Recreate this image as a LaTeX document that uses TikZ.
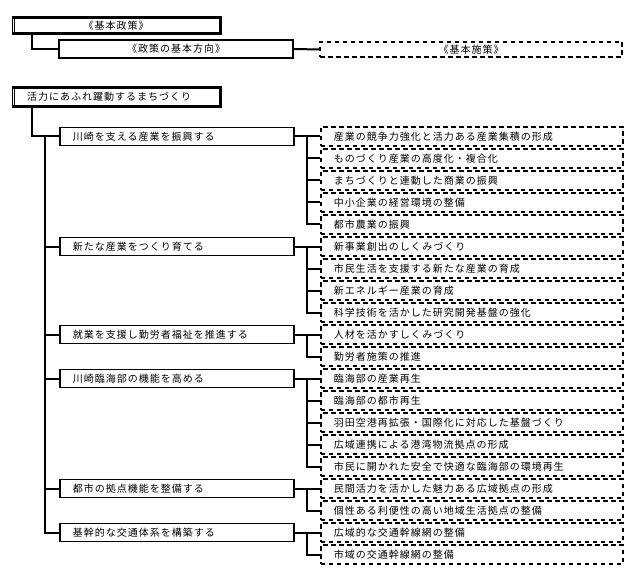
\documentclass[tikz,border=0pt]{standalone}
\usepackage{fontspec}
\setmainfont{Noto Sans CJK JP}[LetterSpace=10]
\begin{document}
\begin{tikzpicture}[x=1pt,y=-1pt,
    every node/.style={font=\fontsize{10}{12}\selectfont, inner sep=0pt},
    headbox/.style={minimum width=208pt},
    policy/.style={draw, line width=1.8pt, anchor=west, minimum height=18pt, text width=208pt, inner xsep=13pt, align=left},
    measure/.style={draw, line width=1.8pt, dash pattern=on 4.5pt off 3.5pt, anchor=west, minimum height=19pt, text width=276pt, inner xsep=13pt, align=left},
    link/.style={line width=2pt},
    frame/.style={line width=2.8pt}]
    \useasboundingbox (0,0) rectangle (639,585);
    % headings
    \node[headbox, minimum height=15pt] (h1) at (116,25.5) {《基本政策》};
    \node[draw, line width=1.8pt, minimum width=234pt, minimum height=18pt] (h2) at (176,49) {《政策の基本方向》};
    \node[draw, line width=1.2pt, dash pattern=on 4.5pt off 3.5pt, minimum width=302pt, minimum height=15pt] (h4) at (471,49.5) {《基本施策》};
    \node[headbox, anchor=west, minimum height=18pt, text width=178pt, inner xsep=15pt, align=left] (h3) at (12,97) {活力にあふれ躍動するまちづくり};
    \draw[frame] (h1.south west) -- (h1.south east) -- (h1.north east) -- (h1.north west);
    \draw[thin] (h1.north west) -- (h1.south west);
    \draw[thin] ([xshift=2pt]h1.north west) -- ([xshift=2pt]h1.south west);
    \draw[frame] (h3.south west) -- (h3.south east) -- (h3.north east) -- (h3.north west);
    \draw[thin] (h3.north west) -- (h3.south west);
    \draw[thin] ([xshift=2pt]h3.north west) -- ([xshift=2pt]h3.south west);
    % policies
    \node[policy] (p1) at (59,136.5) {川崎を支える産業を振興する};
    \node[policy] (p2) at (59,246.5) {新たな産業をつくり育てる};
    \node[policy] (p3) at (59,334.5) {就業を支援し勤労者福祉を推進する};
    \node[policy] (p4) at (59,378.5) {川崎臨海部の機能を高める};
    \node[policy] (p5) at (59,488.5) {都市の拠点機能を整備する};
    \node[policy] (p6) at (59,532.5) {基幹的な交通体系を構築する};
    % measures
    \node[measure] (m1) at (320,136.5) {産業の競争力強化と活力ある産業集積の形成};
    \node[measure] (m2) at (320,158.5) {ものづくり産業の高度化・複合化};
    \node[measure] (m3) at (320,180.5) {まちづくりと連動した商業の振興};
    \node[measure] (m4) at (320,202.5) {中小企業の経営環境の整備};
    \node[measure] (m5) at (320,224.5) {都市農業の振興};
    \node[measure] (m6) at (320,246.5) {新事業創出のしくみづくり};
    \node[measure] (m7) at (320,268.5) {市民生活を支援する新たな産業の育成};
    \node[measure] (m8) at (320,290.5) {新エネルギー産業の育成};
    \node[measure] (m9) at (320,312.5) {科学技術を活かした研究開発基盤の強化};
    \node[measure] (m10) at (320,334.5) {人材を活かすしくみづくり};
    \node[measure] (m11) at (320,356.5) {勤労者施策の推進};
    \node[measure] (m12) at (320,378.5) {臨海部の産業再生};
    \node[measure] (m13) at (320,400.5) {臨海部の都市再生};
    \node[measure] (m14) at (320,422.5) {羽田空港再拡張・国際化に対応した基盤づくり};
    \node[measure] (m15) at (320,444.5) {広域連携による港湾物流拠点の形成};
    \node[measure] (m16) at (320,466.5) {市民に開かれた安全で快適な臨海部の環境再生};
    \node[measure] (m17) at (320,488.5) {民間活力を活かした魅力ある広域拠点の形成};
    \node[measure] (m18) at (320,510.5) {個性ある利便性の高い地域生活拠点の整備};
    \node[measure] (m19) at (320,532.5) {広域的な交通幹線網の整備};
    \node[measure] (m20) at (320,554.5) {市域の交通幹線網の整備};
    % connectors
    \draw[link] ([xshift=20pt]h1.south west) |- (h2.west);
    \draw[link] (h2.east) -- (h4.west);
    \draw[link] ([xshift=20pt]h3.south west) |- (p1.west);
    \draw[link] (p1.west) ++(-14,0) coordinate (t) |- (p6.west);
    \draw[link] (t) |- (p2.west) (t) |- (p3.west) (t) |- (p4.west) (t) |- (p5.west);
    \draw[link] (p1.east) -- coordinate[midway] (b1) (m1.west);
    \draw[link] (b1) |- (m2.west) (b1) |- (m3.west) (b1) |- (m4.west) (b1) |- (m5.west);
    \draw[link] (p2.east) -- coordinate[midway] (b2) (m6.west);
    \draw[link] (b2) |- (m7.west) (b2) |- (m8.west) (b2) |- (m9.west);
    \draw[link] (p3.east) -- coordinate[midway] (b3) (m10.west);
    \draw[link] (b3) |- (m11.west);
    \draw[link] (p4.east) -- coordinate[midway] (b4) (m12.west);
    \draw[link] (b4) |- (m13.west) (b4) |- (m14.west) (b4) |- (m15.west) (b4) |- (m16.west);
    \draw[link] (p5.east) -- coordinate[midway] (b5) (m17.west);
    \draw[link] (b5) |- (m18.west);
    \draw[link] (p6.east) -- coordinate[midway] (b6) (m19.west);
    \draw[link] (b6) |- (m20.west);
\end{tikzpicture}
\end{document}
